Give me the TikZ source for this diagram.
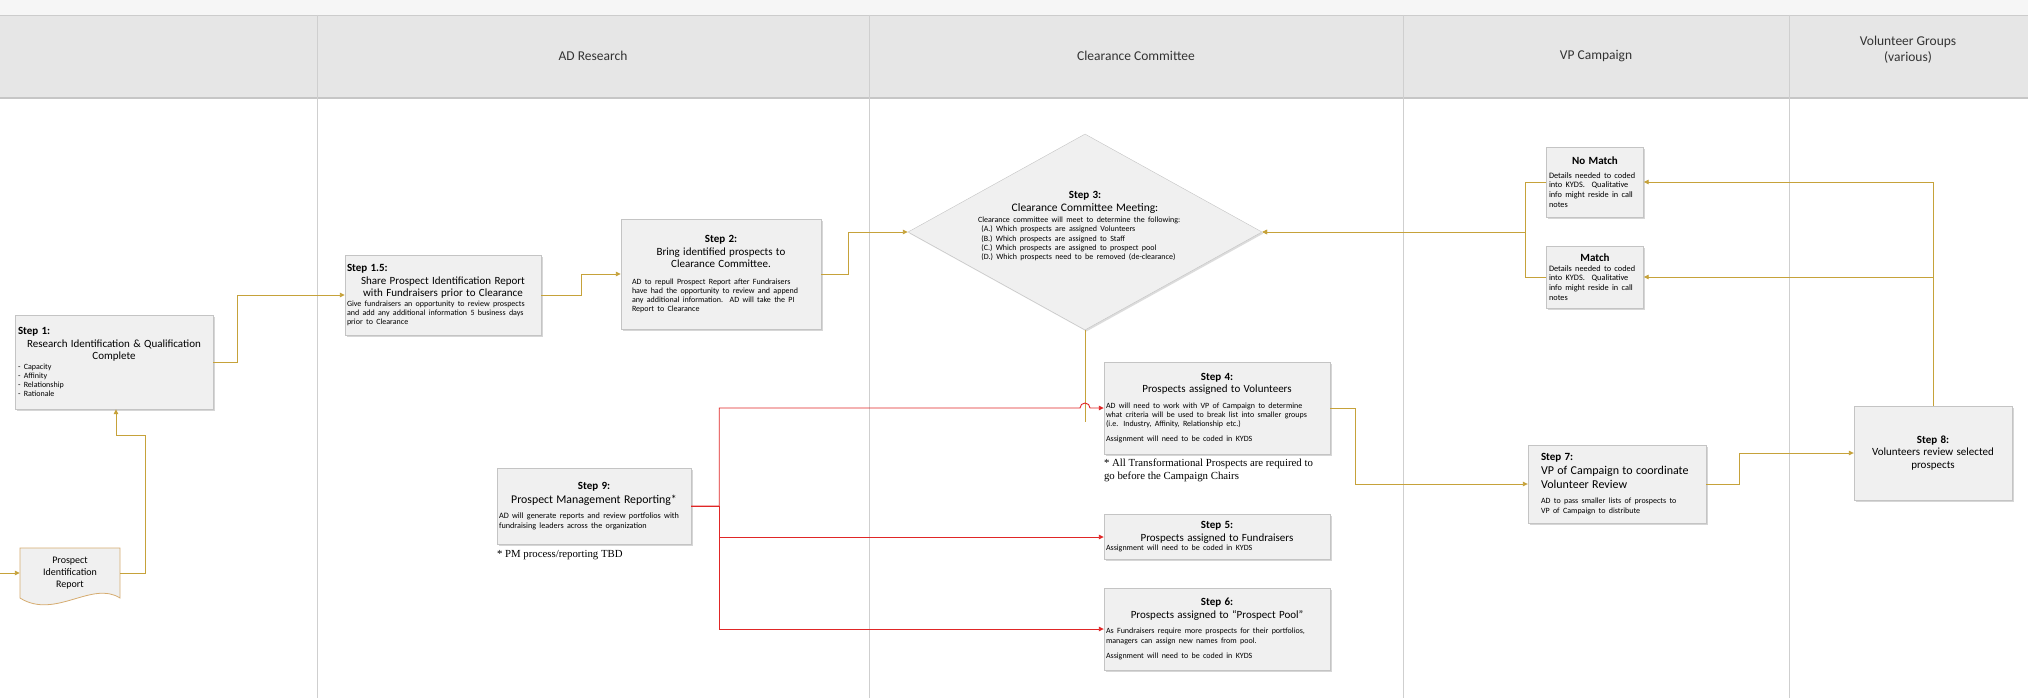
\documentclass[tikz,border=0pt]{standalone}
\usepackage{fontspec}
\setmainfont{Carlito}
\newfontfamily\notefont{Liberation Serif}
\usetikzlibrary{arrows.meta,positioning,shapes.geometric,shadows}
\definecolor{gold}{HTML}{C6A23A}
\definecolor{redline}{HTML}{E02626}
\definecolor{boxfill}{HTML}{F0F0F0}
\definecolor{boxline}{HTML}{C4C4C4}
\definecolor{hdrfill}{HTML}{E6E6E6}
\definecolor{laneline}{HTML}{CFCFCF}
\newcommand{\ttl}{\fontsize{11}{12.8}\selectfont}
\newcommand{\sml}{\fontsize{8}{9.2}\selectfont}
\newcommand{\ctr}[1]{{\centering #1\par}}

\begin{document}
\begin{tikzpicture}[x=1pt,y=-1pt,
  box/.style={draw=boxline,fill=boxfill,align=left,inner sep=2pt,
    drop shadow={shadow xshift=1.5pt,shadow yshift=-1.5pt,opacity=0.35,fill=black!45}},
  hdr/.style={font=\fontsize{13.5}{16}\selectfont,text=black!80,align=center},
  note/.style={font=\notefont\fontsize{10.8}{13}\selectfont,align=left,inner sep=0pt},
  arrow/.style={-{Triangle[length=5pt,width=4.5pt]},draw=gold,line width=0.9pt},
  redarrow/.style={arrow,draw=redline}]
\useasboundingbox (0,0) rectangle (2028,698);
\fill[white] (0,0) rectangle (2028,698);
\fill[gray!7] (0,0) rectangle (2028,15);
\fill[hdrfill] (0,15) rectangle (2028,97);
\draw[gray!40,line width=0.6pt] (0,15) -- (2028,15);
\draw[gray!45,line width=2.5pt] (0,98) -- (2028,98);
\draw[laneline,line width=0.7pt] (317,15) -- (317,698) (869,15) -- (869,698)
  (1403,15) -- (1403,698) (1789,15) -- (1789,698);
\node[hdr] (hres) at (593,56) {AD Research};
\node[hdr] (hclr) at (1136,56) {Clearance Committee};
\node[hdr] (hvp) at (1596,56) {VP Campaign};
\node[hdr] (hvol) at (1908,50) {Volunteer Groups\\(various)};

\filldraw[fill=boxfill,draw={rgb,255:red,214;green,172;blue,112},line width=0.8pt]
  (20,548) -- (120,548) -- (120,598) .. controls (92,580) and (55,620) .. (20,598) -- cycle;
\node[align=center,font=\fontsize{10}{12}\selectfont,minimum width=100pt,minimum height=50pt,inner sep=0pt] (doc) at (70,573) {Prospect\\Identification\\Report};
\coordinate (start) at (0,573);

\node[box,text width=192pt,minimum width=198pt,minimum height=94pt] (s1) at (114,362)
  {{\ttl\bfseries Step 1:\par}\ctr{\ttl Research Identification \& Qualification\\Complete}
   {\sml - Capacity\\- Affinity\\- Relationship\\- Rationale\par}};
\node[box,text width=192pt,minimum width=196pt,minimum height=80pt] (s15) at (443,295)
  {{\ttl\bfseries Step 1.5:\par}\ctr{\ttl Share Prospect Identification Report\\with Fundraisers prior to Clearance}
   {\sml Give fundraisers an opportunity to review prospects\\and add any additional information 5 business days\\prior to Clearance\par}};
\node[box,text width=178pt,minimum width=200pt,minimum height=110pt] (s2) at (721,274)
  {\ctr{\ttl\bfseries Step 2:}\ctr{\ttl Bring identified prospects to\\Clearance Committee.}\vspace{7pt}
   {\sml AD to repull Prospect Report after Fundraisers\\have had the opportunity to review and append\\any additional information.\ \ AD will take the PI\\Report to Clearance\par}};
\node[diamond,draw=boxline,fill=boxfill,minimum width=354pt,minimum height=196pt,inner sep=0pt,
  drop shadow={shadow xshift=1.5pt,shadow yshift=-1.5pt,opacity=0.3,fill=black!45}] (d3) at (1085,232) {};
\node[align=left,text width=214pt,inner sep=0pt] (d3txt) at (1085,226)
  {\ctr{\ttl\bfseries Step 3:}\ctr{\fontsize{11.5}{13}\selectfont Clearance Committee Meeting:}\vspace{2pt}
   {\sml Clearance committee will meet to determine the following:\\
   \ (A.) Which prospects are assigned Volunteers\\
   \ (B.) Which prospects are assigned to Staff\\
   \ (C.) Which prospects are assigned to prospect pool\\
   \ (D.) Which prospects need to be removed (de-clearance)\par}};
\node[box,text width=92pt,minimum width=97pt,minimum height=70pt] (nm) at (1595,182)
  {\ctr{\ttl\bfseries No Match}\vspace{4pt}
   {\fontsize{8.3}{9.6}\selectfont Details needed to coded\\into KYDS.\ \ Qualitative\\info might reside in call\\notes\par}};
\node[box,text width=92pt,minimum width=97pt,minimum height=62pt] (m) at (1595,277)
  {\ctr{\ttl\bfseries Match}
   {\fontsize{8.3}{9.6}\selectfont Details needed to coded\\into KYDS.\ \ Qualitative\\info might reside in call\\notes\par}};
\node[box,text width=222pt,minimum width=226pt,minimum height=92pt] (s4) at (1217,408)
  {\ctr{\ttl\bfseries Step 4:}\ctr{\ttl Prospects assigned to Volunteers}\vspace{6pt}
   {\sml AD will need to work with VP of Campaign to determine\\what criteria will be used to break list into smaller groups\\(i.e. Industry, Affinity, Relationship etc.)\par}\vspace{6pt}
   {\sml Assignment will need to be coded in KYDS\par}};
\node[note,anchor=north west] (n4) at ([yshift=-4pt]s4.south west)
  {* All Transformational Prospects are required to\\go before the Campaign Chairs};
\node[box,text width=222pt,minimum width=226pt,minimum height=45pt] (s5) at (1217,537)
  {\ctr{\ttl\bfseries Step 5:}\ctr{\ttl Prospects assigned to Fundraisers}
   {\sml Assignment will need to be coded in KYDS\par}};
\node[box,text width=222pt,minimum width=226pt,minimum height=82pt] (s6) at (1217,629)
  {\ctr{\ttl\bfseries Step 6:}\ctr{\ttl Prospects assigned to “Prospect Pool”}\vspace{6pt}
   {\sml As Fundraisers require more prospects for their portfolios,\\managers can assign new names from pool.\par}\vspace{6pt}
   {\sml Assignment will need to be coded in KYDS\par}};
\node[box,text width=152pt,minimum width=178pt,minimum height=78pt] (s7) at (1617,484)
  {{\ttl\bfseries Step 7:\par}{\fontsize{12}{14}\selectfont VP of Campaign to coordinate\\Volunteer Review\par}\vspace{6pt}
   {\sml AD to pass smaller lists of prospects to\\VP of Campaign to distribute\par}};
\node[box,text width=150pt,minimum width=158pt,minimum height=94pt] (s8) at (1933,453)
  {\ctr{\ttl\bfseries Step 8:}\ctr{\ttl Volunteers review selected\\prospects}};
\node[box,text width=190pt,minimum width=194pt,minimum height=76pt] (s9) at (594,506)
  {\ctr{\ttl\bfseries Step 9:}\ctr{\fontsize{11.8}{13.5}\selectfont Prospect Management Reporting*}\vspace{6pt}
   {\fontsize{8.2}{9.4}\selectfont AD will generate reports and review portfolios with\\fundraising leaders across the organization\par}};
\node[note,anchor=north west] (n9) at ([yshift=-6pt]s9.south west) {* PM process/reporting TBD};

\draw[arrow] (start) -- (doc.west);
\draw[arrow] (doc.east) -- ++(25,0) |- ([xshift=2pt]s1.south |- 0,435) -- ([xshift=2pt]s1.south);
\draw[arrow] (s1.east) -- ++(24,0) |- (s15.west);
\draw[arrow] (s15.east) -- ++(40,0) |- (s2.west);
\draw[arrow] (s2.east) -- ++(27,0) |- (d3.west);
\draw[arrow] (nm.west) -- ++(-21,0) |- (d3.east);
\draw[arrow] (m.west) -- ++(-21,0) |- (d3.east);
\draw[arrow] (s8.north) |- (nm.east);
\draw[arrow] (s8.north) |- (m.east);
\draw[arrow] (s4.east) -- ++(25,0) |- (s7.west);
\draw[arrow] (s7.east) -- ++(33,0) |- (s8.west);
\draw[gold,line width=0.9pt] (d3.south) -- ++(0,92);
\draw[redarrow] (s9.east) -- ++(28,0) |- ([xshift=-5pt]d3.south |- s4.west) arc (180:360:5) -- (s4.west);
\draw[redarrow] (s9.east) -- ++(28,0) |- (s5.west);
\draw[redarrow] (s9.east) -- ++(28,0) |- (s6.west);
\end{tikzpicture}
\end{document}
